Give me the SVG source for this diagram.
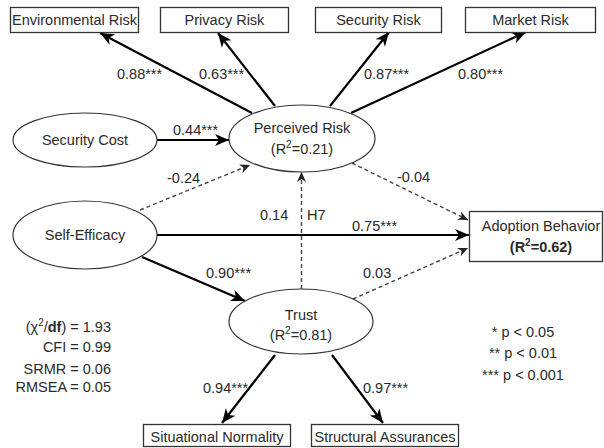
<svg xmlns="http://www.w3.org/2000/svg" width="604" height="448" viewBox="0 0 604 448">
<style>
text{font-family:"Liberation Sans",Arial,sans-serif;font-size:14.5px;fill:#2a2a2a}
.c{text-anchor:middle}
.r{text-anchor:end}
.box{fill:#fff;stroke:#333;stroke-width:1.3}
.ell{fill:#fff;stroke:#333;stroke-width:1.2}
.solid{stroke:#000;stroke-width:2.2;fill:none;marker-end:url(#big)}
.dash{stroke:#444;stroke-width:1.4;fill:none;stroke-dasharray:4 3;marker-end:url(#small)}
</style>
<defs>
<marker id="big" markerUnits="userSpaceOnUse" markerWidth="16" markerHeight="14" refX="14" refY="6" orient="auto" overflow="visible">
<path d="M0,0 L14,6 L0,12 L4,6 Z" fill="#000"/>
</marker>
<marker id="small" markerUnits="userSpaceOnUse" markerWidth="12" markerHeight="10" refX="10" refY="4.5" orient="auto" overflow="visible">
<path d="M0,0 L10,4.5 L0,9 L3,4.5 Z" fill="#222"/>
</marker>
</defs>
<rect width="604" height="448" fill="#fff"/>
<g id="connectors">
<line class="solid" x1="252" y1="113" x2="100" y2="33"/>
<line class="solid" x1="275" y1="106" x2="218" y2="33"/>
<line class="solid" x1="330" y1="106" x2="389" y2="32"/>
<line class="solid" x1="351" y1="113" x2="526" y2="32"/>
<line class="solid" x1="157" y1="140" x2="229" y2="140"/>
<line class="dash" x1="140" y1="210" x2="250" y2="165"/>
<line class="solid" x1="157" y1="235" x2="469" y2="235"/>
<line class="solid" x1="142" y1="257" x2="245" y2="301"/>
<line class="dash" x1="301.5" y1="289" x2="301.5" y2="172"/>
<line class="dash" x1="352" y1="163" x2="468" y2="220"/>
<line class="dash" x1="353" y1="299" x2="468" y2="248"/>
<line class="solid" x1="275" y1="355" x2="222" y2="423"/>
<line class="solid" x1="332" y1="355" x2="383" y2="423"/>
<text x="117" y="79">0.88***</text>
<text x="199" y="79">0.63***</text>
<text x="364" y="79">0.87***</text>
<text x="458" y="79">0.80***</text>
<text x="173" y="135">0.44***</text>
<text x="167" y="183">-0.24</text>
<text x="260" y="220">0.14</text>
<text x="307" y="220">H7</text>
<text x="352" y="231">0.75***</text>
<text x="397" y="182">-0.04</text>
<text x="206" y="278">0.90***</text>
<text x="363" y="278">0.03</text>
<text x="203" y="393">0.94***</text>
<text x="363" y="393">0.97***</text>
</g>
<g id="env-risk"><rect class="box" x="10.5" y="7.5" width="128" height="25"/><text class="c" x="74.5" y="25">Environmental Risk</text></g>
<g id="privacy-risk"><rect class="box" x="160.5" y="7.5" width="128" height="25"/><text class="c" x="224.5" y="25">Privacy Risk</text></g>
<g id="security-risk"><rect class="box" x="315.5" y="7.5" width="126" height="25"/><text class="c" x="378.5" y="25">Security Risk</text></g>
<g id="market-risk"><rect class="box" x="465.5" y="7.5" width="130" height="25"/><text class="c" x="530.5" y="25">Market Risk</text></g>
<g id="security-cost"><ellipse class="ell" cx="85" cy="140" rx="72" ry="27"/><text class="c" x="85" y="145">Security Cost</text></g>
<g id="self-efficacy"><ellipse class="ell" cx="85" cy="235" rx="72" ry="34"/><text class="c" x="85" y="240">Self-Efficacy</text></g>
<g id="perceived-risk"><ellipse class="ell" cx="302" cy="138.5" rx="73" ry="33.5"/><text class="c" x="302" y="133">Perceived Risk</text><text class="c" x="302" y="154">(R<tspan font-size="10" dy="-6">2</tspan><tspan dy="6">=0.21)</tspan></text></g>
<g id="trust"><ellipse class="ell" cx="301" cy="321.5" rx="72" ry="32.5"/><text class="c" x="301" y="320">Trust</text><text class="c" x="301" y="340">(R<tspan font-size="10" dy="-6">2</tspan><tspan dy="6">=0.81)</tspan></text></g>
<g id="adoption-behavior"><rect class="box" x="469.5" y="211.5" width="133" height="50"/><text class="c" x="541" y="231">Adoption Behavior</text><text class="c" x="541" y="252" font-weight="bold">(R<tspan font-size="10" dy="-6">2</tspan><tspan dy="6">=0.62)</tspan></text></g>
<g id="situational-normality"><rect class="box" x="143.5" y="424.5" width="147" height="22"/><text class="c" x="217" y="442">Situational Normality</text></g>
<g id="structural-assurances"><rect class="box" x="311.5" y="424.5" width="147" height="22"/><text class="c" x="385" y="442">Structural Assurances</text></g>
<g id="fit-indices">
<text class="r" x="111" y="332">(χ<tspan font-size="10" dy="-6">2</tspan><tspan dy="6">/</tspan><tspan font-weight="bold">df</tspan>) = 1.93</text>
<text class="r" x="111" y="352">CFI = 0.99</text>
<text class="r" x="111" y="374">SRMR = 0.06</text>
<text class="r" x="111" y="392">RMSEA = 0.05</text>
</g>
<g id="p-values">
<text class="c" x="523" y="337">* p &lt; 0.05</text>
<text class="c" x="523" y="358">** p &lt; 0.01</text>
<text class="c" x="523" y="380">*** p &lt; 0.001</text>
</g>
</svg>
